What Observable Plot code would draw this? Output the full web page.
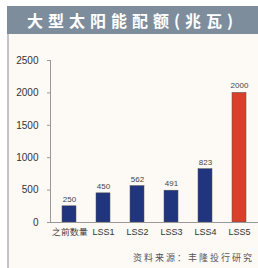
<!DOCTYPE html>
<html><head><meta charset="utf-8">
<script src="https://cdn.jsdelivr.net/npm/d3@7"></script>
<script src="https://cdn.jsdelivr.net/npm/@observablehq/plot@0.6"></script>
<style>
body{margin:0;width:258px;height:268px;background:#fff;position:relative;overflow:hidden;font-family:"Liberation Sans",Arial,sans-serif}
#title{position:absolute;left:7px;top:6px;width:251px;height:28px;background:#7d8d9c;color:#fff;font-family:"Noto Sans CJK SC";font-weight:bold;font-size:16px;line-height:28px;text-align:center;letter-spacing:5px}
#panel{position:absolute;left:7px;top:34px;width:251px;height:234px;background:#fdf9f5;border-left:2px solid #c4c4c4}
#chart{position:absolute;left:0;top:34px}
#src{position:absolute;right:4px;top:251px;font-family:"Noto Sans CJK SC";font-size:9px;color:#555;letter-spacing:2px}
</style></head><body>
<div id="panel"></div>
<div id="title">大型太阳能配额(兆瓦)</div>
<div id="chart"></div>
<div id="src">资料来源：丰隆投行研究</div>
<script>
const categories = ["之前数量","LSS1","LSS2","LSS3","LSS4","LSS5"];
const values = [250,450,562,491,823,2000];
const colors = ["#21357f","#21357f","#21357f","#21357f","#21357f","#d8402a"];
const yTicks = [0,500,1000,1500,2000,2500];
const data = categories.map((c,i)=>({cat:c,value:values[i],color:colors[i]}));
const plot = Plot.plot({
  width:258, height:214,
  marginTop:26, marginBottom:26, marginLeft:50, marginRight:0,
  style:{background:"transparent",fontFamily:"Liberation Sans, Arial, sans-serif",fontSize:"9px",color:"#333"},
  x:{domain:categories, range:[50,258], paddingInner:0.6, paddingOuter:0.3, label:null},
  y:{domain:[0,2500], ticks:yTicks, label:null},
  marks:[
    Plot.axisY({ticks:yTicks, tickFormat:"d", tickSize:3, tickPadding:9, stroke:"#999", fill:"#333", fontSize:10, label:null}),
    Plot.axisX({tickSize:0, tickPadding:6, fill:"#333", fontSize:9, label:null}),
    Plot.barY(data,{x:"cat",y:"value",fill:"color",stroke:"#555",strokeWidth:0.5}),
    Plot.text(data,{x:"cat",y:"value",text:d=>String(d.value),dy:-7,fill:"#444",fontSize:8}),
    Plot.ruleY([0],{stroke:"#999"}),
    Plot.frame({anchor:"left",stroke:"#999"})
  ]
});
document.getElementById("chart").appendChild(plot);
</script>
</body></html>
